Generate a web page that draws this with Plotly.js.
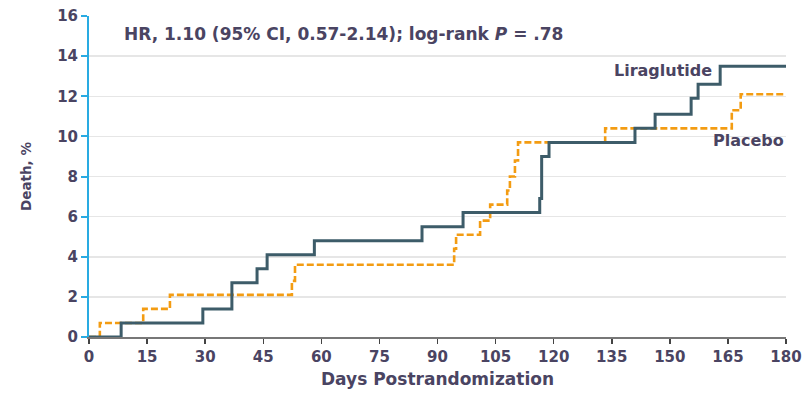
<!DOCTYPE html>
<html>
<head>
<meta charset="utf-8">
<script src="https://cdn.plot.ly/plotly-3.0.1.min.js"></script>
<style>html,body{margin:0;padding:0;background:#fff;}#chart{width:808px;height:394px;}</style>
</head>
<body>
<div id="chart"></div>
<script>
// Kaplan-Meier cumulative death (%) by days postrandomization
const liraDays = [0, 8.3, 29.4, 36.9, 43.4, 46.0, 58.2, 86.0, 96.6, 116.4, 116.9, 118.8, 141.0, 146.2, 155.5, 157.3, 163.0, 180];
const liraDeath = [0, 0.7, 1.4, 2.7, 3.4, 4.1, 4.8, 5.5, 6.2, 6.9, 9.0, 9.7, 10.4, 11.1, 11.9, 12.6, 13.5, 13.5];
const placDays = [0, 2.8, 14.0, 20.9, 52.4, 53.2, 94.3, 94.8, 101.0, 103.6, 108.0, 108.7, 110.0, 110.8, 133.3, 166.0, 168.3, 180];
const placDeath = [0, 0.7, 1.4, 2.1, 2.8, 3.6, 4.4, 5.1, 5.8, 6.6, 7.3, 8.0, 8.8, 9.7, 10.4, 11.3, 12.1, 12.1];
const xTicks = [0, 15, 30, 45, 60, 75, 90, 105, 120, 135, 150, 165, 180];
const yTicks = [0, 2, 4, 6, 8, 10, 12, 14, 16];

const textColor = '#4a4462';
const fontFam = '"DejaVu Sans", "Open Sans", sans-serif';

const traces = [
  {x: placDays, y: placDeath, mode: 'lines', name: 'Placebo',
   line: {shape: 'hv', color: '#f39c12', width: 2.6, dash: '7px,3px'}},
  {x: liraDays, y: liraDeath, mode: 'lines', name: 'Liraglutide',
   line: {shape: 'hv', color: '#3d5c69', width: 3}}
];

const layout = {
  width: 808, height: 394,
  margin: {l: 89, r: 22, t: 16, b: 57},
  paper_bgcolor: '#fff', plot_bgcolor: '#fff',
  showlegend: false,
  font: {family: fontFam, color: textColor, size: 15},
  xaxis: {
    range: [0, 180], tickvals: xTicks, ticktext: xTicks.map(String),
    showgrid: false, zeroline: false,
    showline: true, linecolor: '#777', linewidth: 1.5,
    ticks: 'outside', ticklen: 5, tickwidth: 1.5, tickcolor: '#444',
    tickfont: {family: fontFam, size: 15, color: textColor, weight: 700},
    title: {text: 'Days Postrandomization', standoff: 8,
            font: {family: fontFam, size: 17, color: textColor, weight: 700}},
    fixedrange: true
  },
  yaxis: {
    range: [0, 16], tickvals: yTicks, ticktext: yTicks.map(String),
    showgrid: true, gridcolor: '#e6e6e6', gridwidth: 1.5, zeroline: false,
    showline: true, linecolor: '#29abe2', linewidth: 2,
    ticks: 'outside', ticklen: 6, tickwidth: 2, tickcolor: '#29abe2',
    tickfont: {family: fontFam, size: 15, color: textColor, weight: 700},
    title: {text: 'Death, %', standoff: 22,
            font: {family: fontFam, size: 13.5, color: textColor, weight: 700}},
    fixedrange: true
  },
  annotations: [
    {x: 8.5, y: 15.1, xref: 'x', yref: 'y', xanchor: 'left', yanchor: 'middle',
     text: 'HR, 1.10 (95% CI, 0.57-2.14); log-rank <i>P</i> = .78', showarrow: false,
     font: {family: fontFam, size: 17, color: textColor, weight: 700}},
    {x: 161.5, y: 13.3, xref: 'x', yref: 'y', xanchor: 'right', yanchor: 'middle',
     text: 'Liraglutide', showarrow: false,
     font: {family: fontFam, size: 16, color: textColor, weight: 700}},
    {x: 180, y: 9.8, xref: 'x', yref: 'y', xanchor: 'right', yanchor: 'middle',
     text: 'Placebo', showarrow: false,
     font: {family: fontFam, size: 16, color: textColor, weight: 700}}
  ]
};

Plotly.newPlot('chart', traces, layout, {displayModeBar: false, staticPlot: true});
</script>
</body>
</html>
